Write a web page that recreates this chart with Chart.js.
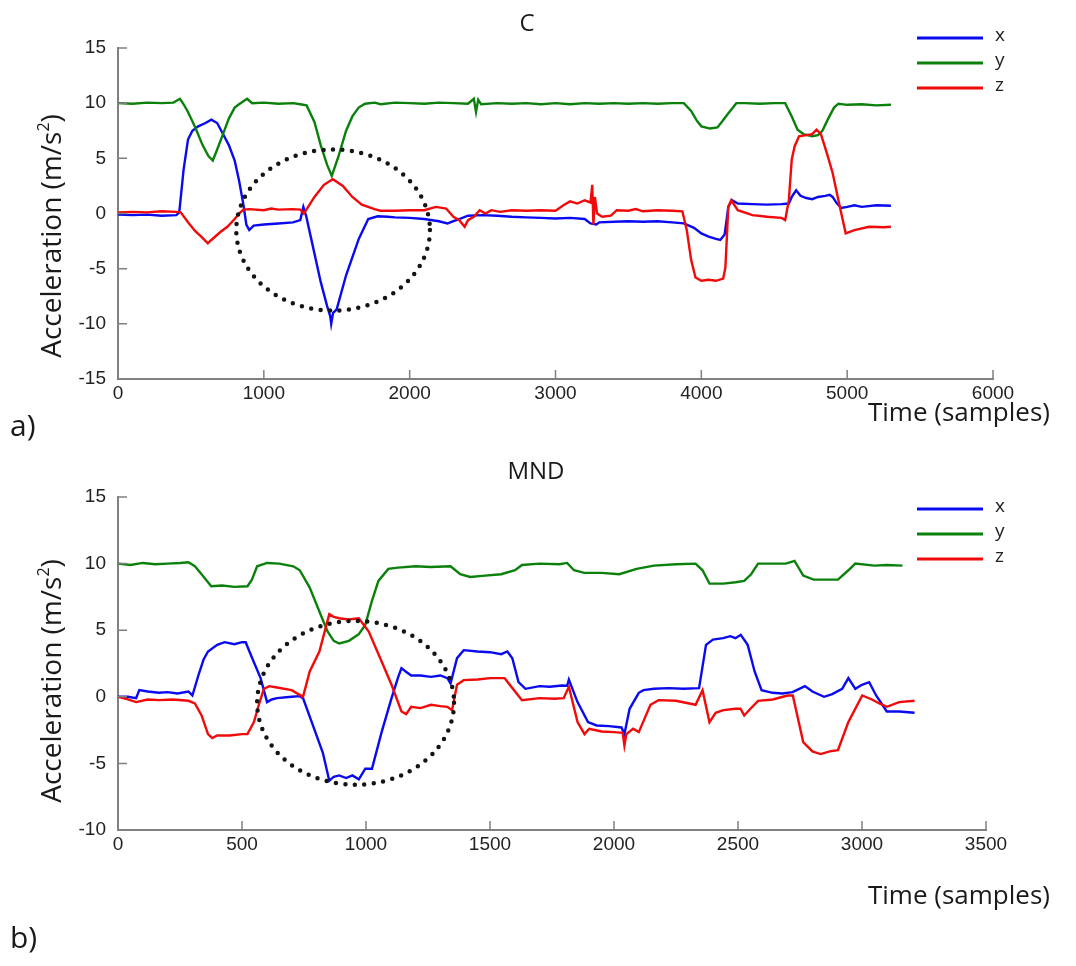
<!DOCTYPE html>
<html>
<head>
<meta charset="utf-8">
<title>Acceleration traces C / MND</title>
<script src="https://cdn.jsdelivr.net/npm/chart.js@4.4.1/dist/chart.umd.min.js"></script>
<style>
  body { margin: 0; background: #fff; }
  #page { position: relative; width: 1076px; height: 966px; overflow: hidden; font-family: "Open Sans", sans-serif; color: #1a1a1a; }
  .box { position: absolute; left: 0; width: 1076px; }
  .ylab { position: absolute; font-size: 28px; white-space: nowrap; transform: translate(-50%, -50%) rotate(-90deg); }
  .ylab sup { font-size: 16px; vertical-align: 12px; line-height: 0; }
  .xlab { position: absolute; right: 26px; font-size: 26px; line-height: 36px; white-space: nowrap; }
  .ttl { position: absolute; font-size: 24px; line-height: 30px; transform: translateX(-50%); white-space: nowrap; }
  .panel { position: absolute; left: 10px; font-size: 30px; line-height: 40px; }
</style>
</head>
<body>
<div id="page">
  <div class="box" style="top:0;height:440px"><canvas id="chartC"></canvas></div>
  <div class="box" style="top:440px;height:526px"><canvas id="chartMND"></canvas></div>
  <div class="ttl" style="left:527px;top:7px">C</div>
  <div class="ttl" style="left:536px;top:455px">MND</div>
  <div class="ylab" style="left:50px;top:236px">Acceleration (m/s<sup>2</sup>)</div>
  <div class="ylab" style="left:50px;top:681px">Acceleration (m/s<sup>2</sup>)</div>
  <div class="xlab" style="top:393px">Time (samples)</div>
  <div class="xlab" style="top:876px">Time (samples)</div>
  <div class="panel" style="top:405px">a)</div>
  <div class="panel" style="top:917px">b)</div>
</div>
<script>
// series names
const seriesLabels = ['x', 'y', 'z'];

// ---- panel a) : C  ([time, acceleration]) ----
const cX = [[0,-0.1],[100,-0.15],[200,-0.1],[300,-0.2],[400,-0.15],[420,0.1],[450,4.0],[480,6.7],[510,7.5],[550,7.9],[600,8.2],[640,8.5],[680,8.2],[720,7.2],[760,6.2],[800,4.8],[830,3.0],[860,0.8],[880,-1.0],[900,-1.5],[930,-1.1],[1000,-1.0],[1100,-0.9],[1200,-0.8],[1250,-0.6],[1271,0.6],[1290,-0.2],[1325,-2.3],[1390,-6.2],[1434,-8.4],[1455,-9.3],[1462,-10.0],[1475,-9.0],[1499,-8.7],[1564,-5.6],[1651,-2.3],[1716,-0.5],[1781,-0.25],[1850,-0.3],[1900,-0.35],[2000,-0.4],[2100,-0.5],[2200,-0.7],[2260,-0.9],[2300,-0.7],[2340,-0.5],[2400,-0.2],[2500,-0.15],[2600,-0.2],[2700,-0.3],[2800,-0.35],[2900,-0.4],[3000,-0.45],[3100,-0.4],[3200,-0.5],[3240,-0.9],[3280,-1.0],[3300,-0.8],[3400,-0.75],[3500,-0.7],[3600,-0.75],[3700,-0.7],[3800,-0.8],[3880,-0.9],[3950,-1.3],[4000,-1.8],[4050,-2.1],[4100,-2.3],[4130,-2.4],[4160,-1.9],[4185,0.6],[4210,1.2],[4250,0.9],[4350,0.85],[4450,0.8],[4550,0.85],[4600,0.9],[4620,1.5],[4650,2.1],[4680,1.6],[4720,1.4],[4760,1.3],[4800,1.5],[4850,1.6],[4880,1.7],[4900,1.5],[4930,0.9],[4960,0.5],[5000,0.6],[5050,0.75],[5100,0.6],[5200,0.75],[5300,0.7]];
const cY = [[0,10.0],[100,9.95],[200,10.05],[300,10.0],[380,10.05],[425,10.4],[450,9.9],[480,9.2],[530,7.8],[580,6.2],[620,5.2],[650,4.8],[680,5.8],[720,7.2],[760,8.6],[800,9.6],[830,9.9],[885,10.4],[920,10.0],[1000,10.05],[1100,9.95],[1200,10.0],[1250,9.9],[1293,9.8],[1347,8.3],[1390,6.2],[1434,4.4],[1466,3.4],[1510,5.1],[1564,7.5],[1607,8.8],[1650,9.6],[1694,9.95],[1760,10.05],[1800,9.9],[1900,10.05],[2000,10.0],[2100,9.95],[2200,10.05],[2300,10.0],[2400,9.95],[2440,10.4],[2455,9.2],[2470,10.3],[2490,9.9],[2600,10.0],[2700,9.95],[2800,10.0],[2900,9.9],[3000,10.0],[3100,9.9],[3200,10.0],[3300,9.95],[3400,10.0],[3500,9.95],[3600,10.0],[3700,9.95],[3800,10.0],[3880,10.0],[3930,9.3],[3970,8.4],[4000,7.9],[4060,7.7],[4110,7.8],[4140,8.3],[4180,9.0],[4210,9.5],[4240,10.0],[4300,10.0],[4400,9.95],[4500,10.0],[4575,10.0],[4620,8.8],[4660,7.6],[4700,7.2],[4760,7.0],[4800,7.1],[4830,7.5],[4870,8.6],[4910,9.6],[4940,9.95],[5000,9.85],[5100,9.9],[5200,9.8],[5300,9.85]];
const cZ = [[0,0.1],[100,0.15],[200,0.1],[300,0.2],[400,0.15],[430,0.1],[480,-0.8],[530,-1.6],[571,-2.1],[616,-2.7],[640,-2.4],[700,-1.7],[750,-1.2],[800,-0.5],[830,0.0],[860,0.35],[900,0.4],[1000,0.3],[1050,0.45],[1100,0.35],[1200,0.4],[1250,0.35],[1275,0.0],[1290,0.3],[1347,1.5],[1412,2.6],[1473,3.1],[1542,2.5],[1607,1.5],[1672,0.8],[1759,0.4],[1800,0.25],[1900,0.25],[2000,0.3],[2100,0.3],[2180,0.6],[2250,0.45],[2300,-0.3],[2340,-0.6],[2377,-1.2],[2400,-0.6],[2440,-0.3],[2480,0.3],[2520,0.0],[2560,0.3],[2620,0.15],[2700,0.3],[2800,0.25],[2900,0.3],[3000,0.25],[3060,0.8],[3100,1.1],[3150,0.9],[3200,1.2],[3240,1.0],[3252,2.6],[3260,-1.0],[3270,1.5],[3285,0.0],[3320,-0.3],[3380,-0.2],[3420,0.3],[3500,0.25],[3550,0.4],[3600,0.2],[3700,0.3],[3800,0.25],[3870,0.2],[3900,-1.5],[3930,-4.2],[3960,-5.8],[4000,-6.1],[4050,-6.0],[4100,-6.1],[4150,-5.9],[4165,-4.9],[4185,0.6],[4205,1.2],[4250,0.3],[4350,-0.15],[4450,-0.3],[4550,-0.4],[4575,-0.6],[4600,1.2],[4620,4.9],[4640,6.1],[4670,7.0],[4720,7.1],[4760,7.2],[4790,7.6],[4820,7.2],[4860,5.5],[4900,3.7],[4950,0.6],[4990,-1.8],[5050,-1.5],[5150,-1.2],[5250,-1.25],[5300,-1.2]];
const cTimeTicks = [0, 1000, 2000, 3000, 4000, 5000, 6000];
const cAccTicks = [-15, -10, -5, 0, 5, 10, 15];
// dotted ellipse: [centre time, centre acc, time radius, acc radius]
const cRing = [1475, -1.5, 664, 7.3];

// ---- panel b) : MND ----
const mX = [[0,0.0],[40,0.0],[73,-0.1],[86,0.5],[120,0.4],[165,0.3],[200,0.35],[240,0.25],[284,0.4],[300,0.1],[324,1.6],[345,2.8],[363,3.4],[400,3.9],[430,4.1],[469,3.95],[500,4.1],[515,4.1],[530,3.4],[548,2.6],[575,1.4],[601,-0.4],[620,-0.2],[641,-0.1],[700,0.0],[733,0.05],[746,-0.1],[786,-2.15],[826,-4.2],[852,-6.3],[870,-6.0],[892,-5.9],[920,-6.1],[945,-5.9],[971,-6.2],[997,-5.4],[1024,-5.4],[1063,-2.65],[1103,-0.1],[1130,1.5],[1143,2.15],[1160,1.9],[1182,1.6],[1220,1.6],[1262,1.5],[1300,1.6],[1328,1.4],[1341,1.0],[1367,2.9],[1394,3.5],[1450,3.4],[1500,3.35],[1545,3.2],[1570,3.4],[1590,2.9],[1615,1.1],[1643,0.6],[1700,0.8],[1741,0.75],[1790,0.85],[1811,0.83],[1818,1.3],[1853,-0.4],[1895,-1.9],[1930,-2.15],[1980,-2.2],[2030,-2.3],[2042,-2.8],[2063,-0.9],[2100,0.3],[2119,0.5],[2161,0.6],[2220,0.65],[2280,0.6],[2343,0.65],[2371,3.9],[2399,4.3],[2440,4.4],[2469,4.55],[2490,4.4],[2511,4.65],[2539,3.9],[2567,1.9],[2595,0.5],[2640,0.3],[2679,0.25],[2720,0.35],[2770,0.8],[2800,0.4],[2847,0.0],[2880,0.2],[2920,0.6],[2945,1.4],[2973,0.6],[3000,0.9],[3029,1.1],[3057,0.1],[3100,-1.1],[3150,-1.1],[3212,-1.2]];
const mY = [[0,10.0],[50,9.9],[100,10.05],[150,9.95],[200,10.0],[250,10.05],[284,10.1],[310,9.8],[337,9.2],[363,8.6],[376,8.3],[420,8.35],[470,8.25],[522,8.3],[540,8.8],[561,9.8],[601,10.05],[650,10.0],[707,9.8],[733,9.5],[773,8.2],[812,6.4],[845,4.9],[870,4.2],[892,4.0],[931,4.2],[971,4.7],[997,5.4],[1024,7.2],[1050,8.7],[1090,9.6],[1129,9.7],[1200,9.8],[1260,9.75],[1341,9.8],[1380,9.2],[1420,9.0],[1480,9.1],[1545,9.2],[1601,9.5],[1629,9.9],[1700,10.0],[1780,9.95],[1811,10.05],[1839,9.5],[1880,9.3],[1950,9.3],[2021,9.2],[2091,9.6],[2161,9.85],[2250,9.95],[2329,10.0],[2357,9.5],[2385,8.5],[2441,8.5],[2490,8.6],[2525,8.7],[2553,9.2],[2581,10.0],[2650,10.0],[2693,10.0],[2728,10.2],[2763,9.1],[2805,8.8],[2850,8.8],[2903,8.8],[2945,9.5],[2973,10.0],[3050,9.85],[3100,9.9],[3163,9.85]];
const mZ = [[0,0.0],[40,-0.2],[73,-0.4],[120,-0.2],[165,-0.25],[220,-0.2],[284,-0.3],[310,-0.5],[337,-1.4],[363,-2.8],[380,-3.1],[400,-2.9],[450,-2.9],[500,-2.8],[522,-2.8],[548,-1.9],[568,-0.6],[588,0.6],[610,0.8],[641,0.7],[700,0.5],[746,0.0],[773,1.9],[812,3.4],[852,6.2],[870,6.0],[892,5.9],[930,5.8],[971,5.9],[1011,4.9],[1063,2.65],[1103,0.9],[1143,-1.1],[1162,-1.3],[1182,-0.75],[1220,-0.85],[1262,-0.6],[1300,-0.7],[1328,-0.75],[1347,-1.0],[1367,0.9],[1394,1.25],[1450,1.3],[1500,1.4],[1559,1.4],[1601,0.4],[1629,-0.25],[1700,-0.1],[1760,-0.15],[1797,-0.1],[1818,0.75],[1853,-1.9],[1881,-2.8],[1900,-2.4],[1950,-2.6],[2000,-2.65],[2035,-2.7],[2042,-3.65],[2050,-2.8],[2077,-2.4],[2100,-2.65],[2147,-0.6],[2180,-0.25],[2250,-0.3],[2329,-0.6],[2357,0.5],[2385,-1.9],[2410,-1.2],[2441,-1.0],[2490,-0.9],[2510,-0.9],[2525,-1.4],[2550,-0.9],[2581,-0.3],[2640,-0.2],[2700,0.1],[2721,0.1],[2763,-3.4],[2800,-4.1],[2833,-4.3],[2870,-4.1],[2903,-4.0],[2945,-1.9],[3001,0.1],[3040,-0.2],[3070,-0.5],[3100,-0.75],[3150,-0.4],[3212,-0.3]];
const mTimeTicks = [0, 500, 1000, 1500, 2000, 2500, 3000, 3500];
const mAccTicks = [-10, -5, 0, 5, 10, 15];
const mRing = [958, -0.45, 397, 6.15];

const seriesColors = ['#0a0af0', '#0b800b', '#f00a0a'];
const axisGray = '#808080';
const tickFont = { family: '"Liberation Sans", Arial, sans-serif', size: 19 };

// tick marks drawn inwards, like the original
const innerTicks = {
  id: 'innerTicks',
  afterDraw(chart) {
    const { ctx, chartArea: a, scales: { x, y } } = chart;
    ctx.save();
    ctx.strokeStyle = axisGray;
    ctx.lineWidth = 1.5;
    ctx.beginPath();
    x.ticks.forEach(t => {
      const px = x.getPixelForValue(t.value);
      ctx.moveTo(px, a.bottom); ctx.lineTo(px, a.bottom - 9);
    });
    y.ticks.forEach(t => {
      const py = y.getPixelForValue(t.value);
      ctx.moveTo(a.left, py); ctx.lineTo(a.left + 9, py);
    });
    ctx.stroke();
    ctx.restore();
  }
};

// dotted ellipse around the event of interest
const dottedRing = {
  id: 'dottedRing',
  afterDatasetsDraw(chart, args, opts) {
    const r = opts.ring;
    const { ctx, scales: { x, y } } = chart;
    const cx = x.getPixelForValue(r[0]);
    const cy = y.getPixelForValue(r[1]);
    const rx = x.getPixelForValue(r[0] + r[2]) - cx;
    const ry = cy - y.getPixelForValue(r[1] + r[3]);
    ctx.save();
    ctx.setLineDash([0, 9.5]);
    ctx.lineCap = 'round';
    ctx.lineWidth = 4.5;
    ctx.strokeStyle = '#141414';
    ctx.beginPath();
    ctx.ellipse(cx, cy, rx, ry, 0, 0, Math.PI * 2);
    ctx.stroke();
    ctx.restore();
  }
};

// legend in the top right corner, partly outside the axes
const accLegend = {
  id: 'accLegend',
  afterDraw(chart, args, opts) {
    const ctx = chart.ctx;
    ctx.save();
    chart.data.datasets.forEach((ds, i) => {
      const yy = opts.top + i * opts.step;
      ctx.strokeStyle = ds.borderColor;
      ctx.lineWidth = 3;
      ctx.beginPath();
      ctx.moveTo(917, yy); ctx.lineTo(983, yy);
      ctx.stroke();
      ctx.fillStyle = '#222';
      ctx.font = '19px "Open Sans", sans-serif';
      ctx.textBaseline = 'middle';
      ctx.fillText(ds.label, 995, yy - 2);
    });
    ctx.restore();
  }
};

function buildChart(id, cfg) {
  const ctx = document.getElementById(id).getContext('2d');
  return new Chart(ctx, {
    type: 'line',
    data: {
      datasets: cfg.series.map((s, i) => ({
        label: seriesLabels[i],
        data: s.map(p => ({ x: p[0], y: p[1] })),
        borderColor: seriesColors[i],
        backgroundColor: seriesColors[i],
        borderWidth: 2.4,
        pointRadius: 0,
        tension: 0,
        order: 3 - i
      }))
    },
    options: {
      responsive: true,
      maintainAspectRatio: false,
      animation: false,
      events: [],
      layout: { padding: { left: 0, right: cfg.padRight, top: cfg.padTop, bottom: 0 } },
      plugins: {
        legend: { display: false },
        tooltip: { enabled: false },
        title: { display: false },
        dottedRing: { ring: cfg.ring },
        accLegend: { top: cfg.legendTop, step: 25 }
      },
      scales: {
        x: {
          type: 'linear',
          min: cfg.xTicks[0],
          max: cfg.xTicks[cfg.xTicks.length - 1],
          afterBuildTicks: s => { s.ticks = cfg.xTicks.map(v => ({ value: v })); },
          afterFit: s => { s.height = cfg.xAxisHeight; },
          grid: { display: false, drawTicks: false },
          border: { display: true, color: axisGray, width: 2 },
          ticks: { padding: 3, color: '#222', font: tickFont, maxRotation: 0, autoSkip: false, callback: v => String(v) }
        },
        y: {
          type: 'linear',
          min: cfg.yTicks[0],
          max: cfg.yTicks[cfg.yTicks.length - 1],
          afterBuildTicks: s => { s.ticks = cfg.yTicks.map(v => ({ value: v })); },
          afterFit: s => { s.width = 118; },
          grid: { display: false, drawTicks: false },
          border: { display: true, color: axisGray, width: 2 },
          ticks: { padding: 12, color: '#222', font: tickFont, autoSkip: false, callback: v => String(v) }
        }
      }
    },
    plugins: [innerTicks, dottedRing, accLegend]
  });
}

buildChart('chartC', {
  series: [cX, cY, cZ],
  xTicks: cTimeTicks,
  yTicks: cAccTicks,
  ring: cRing,
  padRight: 83,
  padTop: 48,
  xAxisHeight: 61,
  legendTop: 38
});

buildChart('chartMND', {
  series: [mX, mY, mZ],
  xTicks: mTimeTicks,
  yTicks: mAccTicks,
  ring: mRing,
  padRight: 90,
  padTop: 57,
  xAxisHeight: 136,
  legendTop: 69
});
</script>
</body>
</html>
